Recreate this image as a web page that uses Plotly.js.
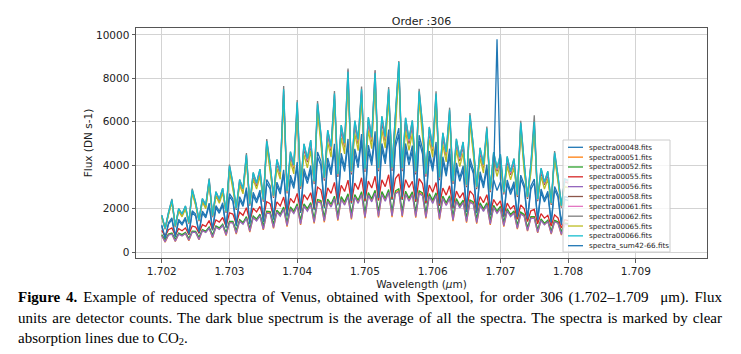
<!DOCTYPE html>
<html>
<head>
<meta charset="utf-8">
<script src="https://cdn.plot.ly/plotly-3.0.1.min.js"></script>
<style>
  html, body { margin: 0; padding: 0; background: #fff; }
  #wrap { position: relative; width: 741px; height: 354px; overflow: hidden; }
  #chart { position: absolute; left: 0; top: 0; width: 741px; height: 354px; }
  #caption { position: absolute; left: 18px; top: 287px; width: 704px;
    font-family: 'Liberation Serif', 'Times New Roman', serif; font-size: 15px; line-height: 20.5px; color: #000; }
  #caption .j { text-align: justify; text-align-last: justify; white-space: nowrap; }
  #caption sub { font-size: 70%; vertical-align: -2px; line-height: 0; }
</style>
</head>
<body>
<div id="wrap">
  <div id="chart"></div>
  <div id="caption">
    <div class="j"><b>Figure 4.</b> Example of reduced spectra of Venus, obtained with Spextool, for order 306 (1.702–1.709 &nbsp;μm). Flux</div>
    <div class="j">units are detector counts. The dark blue spectrum is the average of all the spectra. The spectra is marked by clear</div>
    <div>absorption lines due to CO<sub>2</sub>.</div>
  </div>
</div>
<script>
// ---------------- data ----------------
const wavelength = [
1.70200,1.70205,1.70210,1.70215,1.70220,1.70225,1.70230,1.70235,1.70240,1.70245,
1.70250,1.70255,1.70260,1.70265,1.70270,1.70275,1.70280,1.70285,1.70290,1.70295,
1.70300,1.70305,1.70310,1.70315,1.70320,1.70325,1.70330,1.70335,1.70340,1.70345,
1.70350,1.70355,1.70360,1.70365,1.70370,1.70375,1.70380,1.70385,1.70390,1.70395,
1.70400,1.70405,1.70410,1.70415,1.70420,1.70425,1.70430,1.70435,1.70440,1.70445,
1.70450,1.70455,1.70460,1.70465,1.70470,1.70475,1.70480,1.70485,1.70490,1.70495,
1.70500,1.70505,1.70510,1.70515,1.70520,1.70525,1.70530,1.70535,1.70540,1.70545,
1.70550,1.70555,1.70560,1.70565,1.70570,1.70575,1.70580,1.70585,1.70590,1.70595,
1.70600,1.70605,1.70610,1.70615,1.70620,1.70625,1.70630,1.70635,1.70640,1.70645,
1.70650,1.70655,1.70660,1.70665,1.70670,1.70675,1.70680,1.70685,1.70690,1.70695,
1.70700,1.70705,1.70710,1.70715,1.70720,1.70725,1.70730,1.70735,1.70740,1.70745,
1.70750,1.70755,1.70760,1.70765,1.70770,1.70775,1.70780,1.70785,1.70790,1.70795,
1.70800];

const s48 = [
1190,620,1280,1490,690,1430,1250,1520,790,1810,
1660,860,1790,1570,2140,990,2030,1780,2160,1110,
2560,2330,1190,2420,2100,2820,1280,2610,2260,2710,
1380,3170,2910,1490,3060,2670,3600,1640,3360,2930,
3930,1800,3650,3150,3780,1930,4380,3980,2020,4110,
3550,4730,2140,4320,3710,4950,2230,4510,3880,5160,
2330,4670,3990,5280,2370,4750,4060,5360,2400,4830,
5420,2400,4750,4000,4660,2310,5110,4510,2230,4420,
3710,4820,2120,4170,3490,4520,1990,3900,3260,3770,
1850,4090,3610,1790,3520,2950,3830,1690,3330,2830,
3230,1600,3150,2650,3080,1520,3360,2960,1460,2890,
3190,1410,2760,2300,2660,1310,2870,2520,1240,2420,
2380];

const s51 = [
770,450,800,840,490,840,760,870,520,930,
920,560,1000,920,1110,660,1160,1060,1240,760,
1370,1370,830,1450,1310,1580,920,1610,1460,1690,
1020,1830,1810,1090,1880,1680,2010,1170,2020,1800,
2150,1250,2150,1920,2210,1320,2350,2310,1370,2370,
2110,2500,1440,2470,2200,2600,1500,2580,2290,2700,
1560,2660,2360,2760,1590,2700,2390,2800,1610,2740,
2830,1610,2720,2390,2690,1580,2740,2650,1550,2620,
2290,2650,1490,2510,2180,2520,1420,2390,2070,2330,
1350,2340,2240,1310,2190,1910,2200,1250,2090,1820,
2040,1170,1940,1660,1840,1060,1790,1680,960,1580,
1580,880,1480,1280,1430,820,1420,1350,780,1300,
1280];

const s52 = [
800,560,830,870,590,870,800,900,630,960,
950,680,1030,960,1150,790,1200,1110,1280,900,
1410,1410,990,1490,1360,1630,1090,1660,1520,1740,
1200,1880,1860,1280,1930,1750,2070,1380,2080,1880,
2220,1470,2220,2000,2280,1550,2420,2370,1620,2440,
2200,2570,1700,2550,2300,2680,1770,2650,2380,2780,
1840,2740,2450,2840,1870,2780,2480,2880,1900,2820,
2910,1900,2800,2480,2770,1860,2820,2720,1830,2690,
2380,2730,1760,2580,2270,2590,1680,2460,2160,2390,
1600,2400,2310,1540,2260,1990,2270,1470,2150,1890,
2100,1380,1990,1730,1890,1250,1840,1730,1130,1630,
1630,1040,1520,1330,1470,970,1460,1390,930,1340,
1310];

const s55 = [
1000,730,1030,1110,760,1075,980,1105,810,1200,
1150,870,1260,1180,1450,1030,1480,1380,1590,1180,
1800,1745,1290,1835,1690,2040,1420,2015,1850,2105,
1550,2320,2230,1630,2310,2120,2530,1750,2470,2260,
2700,1870,2640,2420,2730,2000,2990,2865,2100,2955,
2700,3210,2200,3075,2790,3310,2270,3175,2880,3420,
2340,3265,2950,3490,2380,3325,3010,3560,2430,3385,
3600,2420,3330,2970,3260,2320,3380,3155,2250,3085,
2750,3200,2150,2945,2620,3050,2040,2805,2490,2735,
1940,2820,2630,1870,2560,2270,2640,1770,2420,2150,
2350,1660,2250,1980,2150,1510,2170,2000,1400,1900,
1960,1300,1770,1560,1690,1190,1710,1570,1100,1490,
1450];

const s56 = [
750,470,780,820,500,825,740,855,540,910,
900,580,980,900,1090,680,1140,1040,1220,780,
1340,1340,860,1420,1280,1550,950,1580,1430,1660,
1050,1790,1770,1120,1840,1650,1970,1210,1980,1770,
2110,1290,2110,1880,2170,1360,2300,2260,1420,2320,
2070,2450,1490,2425,2160,2550,1550,2525,2240,2650,
1610,2610,2310,2710,1640,2650,2340,2750,1660,2690,
2780,1660,2670,2340,2640,1630,2690,2595,1600,2565,
2240,2600,1540,2460,2140,2470,1470,2340,2030,2280,
1400,2290,2200,1350,2150,1870,2160,1290,2050,1780,
2000,1210,1900,1630,1800,1090,1750,1650,990,1550,
1550,910,1450,1250,1400,850,1390,1325,810,1275,
1250];

const s58 = [
1630,1050,1750,2330,1150,1920,1680,2040,1300,2770,
2210,1420,2360,2070,3230,1600,2670,2330,2820,1800,
3830,3050,1940,3210,2790,4320,2130,3510,3050,3670,
2320,4930,3920,2490,4090,3550,7250,2700,4440,3840,
6650,2910,4780,4140,4950,3130,6600,5210,3280,5390,
4660,7050,3460,5620,4820,8020,3570,5810,4980,7250,
3690,5960,5080,7970,3720,6000,5110,7250,3730,6040,
8450,3720,5930,4990,5820,3570,7150,5640,3470,5530,
4660,7050,3310,5270,4430,6330,3140,5000,4200,4870,
2980,6090,4700,2890,4610,3880,5510,2760,4420,3720,
4320,2650,4220,3550,4130,2530,5750,3980,2440,3890,
5800,2340,3710,3090,3570,2170,4430,3370,2040,3240,
3170];

const s61 = [
1670,1070,1780,2390,1180,1960,1720,2080,1320,2840,
2250,1450,2410,2120,3320,1640,2720,2380,2880,1830,
3930,3120,1980,3270,2850,4440,2180,3590,3120,3740,
2370,5060,4000,2540,4170,3630,7420,2750,4530,3920,
6830,2970,4880,4220,5060,3190,6770,5320,3350,5500,
4750,7230,3530,5730,4920,8380,3650,5930,5090,7430,
3760,6090,5180,8330,3790,6130,5210,7430,3810,6160,
8660,3790,6060,5100,5940,3650,7330,5760,3540,5640,
4750,7230,3380,5380,4520,6480,3200,5110,4280,4970,
3040,6240,4800,2950,4700,3960,5640,2820,4510,3790,
4410,2700,4310,3630,4210,2590,5890,4070,2490,3970,
5940,2390,3780,3160,3650,2210,4530,3440,2090,3300,
3230];

const s62 = [
1700,1090,1820,2450,1200,2000,1750,2120,1350,2920,
2300,1480,2460,2160,3400,1670,2780,2430,2940,1870,
4030,3180,2020,3340,2910,4560,2220,3660,3180,3820,
2420,5200,4080,2590,4260,3700,7650,2810,4620,4000,
7000,3030,4980,4310,5160,3260,6950,5430,3420,5610,
4850,7420,3600,5850,5020,8450,3720,6050,5190,7620,
3840,6210,5290,8380,3870,6250,5320,7600,3890,6290,
8800,3870,6180,5200,6060,3720,7520,5880,3610,5760,
4850,7400,3450,5490,4610,6650,3270,5210,4370,5070,
3100,6400,4900,3010,4800,4040,5780,2880,4600,3870,
4500,2760,4400,3700,4300,2640,6050,4150,2540,4050,
6300,2440,3860,3220,3720,2260,4650,3510,2130,3370,
3300];

const s65 = [
1620,1080,1720,2300,1180,1880,1620,1980,1330,2720,
2150,1460,2300,2000,3180,1650,2580,2250,2720,1850,
3770,2930,2000,3080,2680,4260,2200,3350,2900,3480,
2400,4850,3700,2560,3850,3350,7100,2780,4170,3600,
6550,3000,4480,3880,4650,3230,6500,4880,3400,5050,
4370,6950,3570,5260,4520,7880,3690,5450,4670,7120,
3810,5590,4760,7840,3840,5620,4790,7120,3860,5660,
8300,3840,5560,4680,5450,3690,7030,5290,3580,5180,
4370,6930,3420,4940,4150,6220,3240,4690,3930,4560,
3070,5980,4410,2980,4320,3640,5420,2850,4140,3480,
4050,2730,3960,3330,3870,2610,5650,3740,2510,3650,
5700,2420,3470,2900,3350,2240,4350,3160,2110,3030,
2970];

const s66 = [
1700,1090,1820,2410,1200,2000,1750,2120,1350,2870,
2300,1480,2460,2160,3350,1670,2780,2430,2940,1870,
3970,3180,2020,3340,2910,4480,2220,3660,3180,3820,
2420,5110,4080,2590,4260,3700,7500,2810,4620,4000,
6900,3030,4980,4310,5160,3260,6840,5430,3420,5610,
4850,7300,3600,5850,5020,8300,3720,6050,5190,7500,
3840,6210,5290,8250,3870,6250,5320,7500,3890,6290,
8750,3870,6180,5200,6060,3720,7400,5880,3610,5760,
4850,7300,3450,5490,4610,6550,3270,5210,4370,5070,
3100,6300,4900,3010,4800,4040,5700,2880,4600,3870,
4500,2760,4400,3700,4300,2640,5950,4150,2540,4050,
6000,2440,3860,3220,3720,2260,4580,3510,2130,3370,
3300];

const sum42_66 = [
1250,650,1350,1570,730,1500,1320,1600,830,1900,
1750,910,1880,1650,2250,1040,2140,1870,2270,1170,
2690,2450,1250,2550,2210,2970,1350,2750,2380,2850,
1450,3340,3060,1570,3220,2810,3790,1730,3540,3080,
4140,1890,3840,3320,3980,2030,4610,4190,2130,4330,
3740,4980,2250,4550,3910,5210,2350,4750,4080,5430,
2450,4920,4200,5560,2490,5000,4270,5640,2530,5080,
5710,2530,5000,4210,4900,2430,5380,4750,2350,4650,
3910,5070,2230,4390,3670,4760,2090,4110,3430,3970,
1950,4310,3800,1880,3700,3100,4030,1780,3500,9800,
3400,1680,3320,2790,3240,1600,3540,3120,1540,3040,
3360,1480,2900,2420,2800,1380,3020,2650,1300,2550,
2500];

const seriesNames = ['spectra00048.fits','spectra00051.fits','spectra00052.fits','spectra00055.fits',
  'spectra00056.fits','spectra00058.fits','spectra00061.fits','spectra00062.fits',
  'spectra00065.fits','spectra00066.fits','spectra_sum42-66.fits'];
const seriesValues = [s48, s51, s52, s55, s56, s58, s61, s62, s65, s66, sum42_66];

const xTicks = [1.702, 1.703, 1.704, 1.705, 1.706, 1.707, 1.708, 1.709];
const xTickText = ['1.702','1.703','1.704','1.705','1.706','1.707','1.708','1.709'];
const yTicks = [0, 2000, 4000, 6000, 8000, 10000];
const yTickText = ['0','2000','4000','6000','8000','10000'];

// ---------------- styles ----------------
const colors = ['#1f77b4','#ff7f0e','#2ca02c','#d62728','#9467bd','#8c564b','#e377c2','#7f7f7f','#bcbd22','#17becf','#1f77b4'];
const W = 741, H = 354;
const M = {l: 136, r: 34, t: 28, b: 96};
const plotW = W - M.l - M.r, plotH = H - M.t - M.b;
const px2x = px => (px - M.l) / plotW;
const py2y = py => (H - M.b - py) / plotH;

const traces = seriesNames.map((n, i) => ({
  type: 'scatter', mode: 'lines', name: n,
  x: wavelength, y: seriesValues[i],
  line: {color: colors[i], width: 1.3},
  showlegend: false, hoverinfo: 'skip'
}));

// manual compact legend (matplotlib style)
const shapes = [{
  type: 'rect', xref: 'paper', yref: 'paper', layer: 'above',
  x0: px2x(563), x1: px2x(670), y0: py2y(252), y1: py2y(140),
  fillcolor: 'rgba(255,255,255,0.8)', line: {color: '#cccccc', width: 1}
}];
const annotations = [];
seriesNames.forEach((n, i) => {
  const cy = 147.3 + i * 9.84;
  shapes.push({type: 'line', xref: 'paper', yref: 'paper', layer: 'above',
    x0: px2x(568), x1: px2x(583), y0: py2y(cy), y1: py2y(cy),
    line: {color: colors[i], width: 1.3}});
  annotations.push({xref: 'paper', yref: 'paper', x: px2x(587), y: py2y(cy),
    xanchor: 'left', yanchor: 'middle', showarrow: false, text: n,
    font: {family: 'DejaVu Sans', size: 7.2, color: '#222'}});
});

const axisCommon = {
  showline: true, mirror: true, linecolor: '#555', linewidth: 1,
  showgrid: true, gridcolor: '#d3d3d3', gridwidth: 1, zeroline: false,
  ticks: 'outside', ticklen: 3.5, tickwidth: 0.8, tickcolor: '#333',
  tickfont: {family: 'DejaVu Sans', size: 10.5, color: '#222'}
};

const layout = {
  width: W, height: H, margin: M,
  paper_bgcolor: '#fff', plot_bgcolor: '#fff',
  font: {family: 'DejaVu Sans', color: '#222'},
  title: {text: 'Order :306', font: {family: 'DejaVu Sans', size: 11, color: '#222'},
    x: 0.5, xref: 'paper', xanchor: 'center', y: 1, yref: 'paper', yanchor: 'bottom', pad: {b: 3}},
  xaxis: Object.assign({}, axisCommon, {
    range: [1.70162, 1.71005], tickmode: 'array', tickvals: xTicks, ticktext: xTickText,
    title: {text: 'Wavelength (<i>μ</i>m)', font: {family: 'DejaVu Sans', size: 10.5, color: '#222'}, standoff: 4}
  }),
  yaxis: Object.assign({}, axisCommon, {
    range: [-276, 10320], tickmode: 'array', tickvals: yTicks, ticktext: yTickText,
    title: {text: 'Flux (DN s-1)', font: {family: 'DejaVu Sans', size: 10.5, color: '#222'}, standoff: 1}
  }),
  shapes: shapes, annotations: annotations, showlegend: false
};

Plotly.newPlot('chart', traces, layout, {staticPlot: true, displayModeBar: false});
</script>
</body>
</html>
